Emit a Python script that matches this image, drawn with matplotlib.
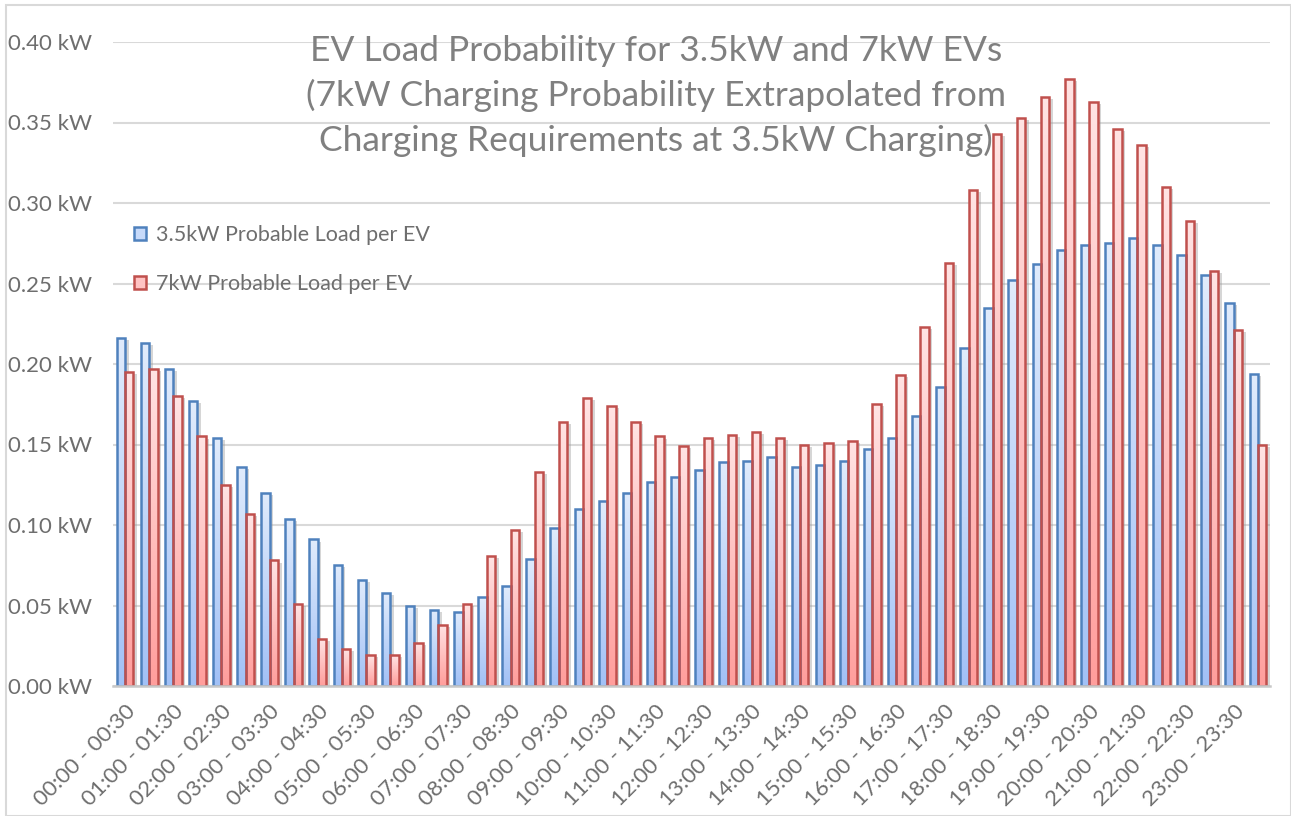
import matplotlib
matplotlib.use("Agg")
import matplotlib.pyplot as plt
import matplotlib.patheffects as pe
from matplotlib.patches import Patch, Rectangle
from matplotlib.colors import LinearSegmentedColormap
import numpy as np

plt.rcParams['font.family'] = ['Lato', 'DejaVu Sans']

# ---------------- data ----------------
start_hours = [f"{h:02d}:{m:02d}" for h in range(24) for m in (0, 30)]
end_hours = start_hours[1:] + ["00:00"]
categories = [f"{a} - {b}" for a, b in zip(start_hours, end_hours)]

load_35kw = [0.216, 0.213, 0.197, 0.177, 0.154, 0.136, 0.120, 0.104, 0.091, 0.075,
             0.066, 0.058, 0.050, 0.047, 0.046, 0.055, 0.062, 0.079, 0.098, 0.110,
             0.115, 0.120, 0.127, 0.130, 0.134, 0.139, 0.140, 0.142, 0.136, 0.137,
             0.140, 0.147, 0.154, 0.168, 0.186, 0.210, 0.235, 0.252, 0.262, 0.271,
             0.274, 0.275, 0.278, 0.274, 0.268, 0.255, 0.238, 0.194]
load_7kw = [0.195, 0.197, 0.180, 0.155, 0.125, 0.107, 0.078, 0.051, 0.029, 0.023,
            0.019, 0.019, 0.027, 0.038, 0.051, 0.081, 0.097, 0.133, 0.164, 0.179,
            0.174, 0.164, 0.155, 0.149, 0.154, 0.156, 0.158, 0.154, 0.150, 0.151,
            0.152, 0.175, 0.193, 0.223, 0.263, 0.308, 0.343, 0.353, 0.366, 0.377,
            0.363, 0.346, 0.336, 0.310, 0.289, 0.258, 0.221, 0.150]

series_names = ["3.5kW Probable Load per EV", "7kW Probable Load per EV"]
title_text = ("EV Load Probability for 3.5kW and 7kW EVs\n"
              "(7kW Charging Probability Extrapolated from\n"
              "Charging Requirements at 3.5kW Charging)")
y_ticks = [0.00, 0.05, 0.10, 0.15, 0.20, 0.25, 0.30, 0.35, 0.40]

# ---------------- style ----------------
blue_edge = "#4f81bd"
blue_top, blue_bot = "#e0ebfc", "#a2c1f6"
red_edge = "#c0504d"
red_top, red_bot = "#ffe3e3", "#ff9e9c"
text_gray = "#6e6e6e"

W, H = 1291, 816
fig = plt.figure(figsize=(W / 100, H / 100), dpi=100)
ax = fig.add_axes([113 / W, 1 - 686 / H, (1270 - 113) / W, (686 - 42) / H])

x = np.arange(len(categories))
bw = 0.35

cmap_b = LinearSegmentedColormap.from_list("b", [blue_bot, blue_top])
cmap_r = LinearSegmentedColormap.from_list("r", [red_bot, red_top])
grad = np.linspace(0, 1, 64).reshape(-1, 1)

shadow = [pe.SimplePatchShadow(offset=(2.5, -1.5), shadow_rgbFace="#999999", alpha=0.4),
          pe.Normal()]

for vals, off, cmap, edge, midc in [(load_35kw, -bw / 2, cmap_b, blue_edge, blue_bot),
                                     (load_7kw, bw / 2, cmap_r, red_edge, red_bot)]:
    bars = ax.bar(x + off, vals, width=bw, color=midc, edgecolor="none",
                  zorder=2, path_effects=shadow)
    for b in bars:
        bx, by, bwid, bh = b.get_x(), b.get_y(), b.get_width(), b.get_height()
        im = ax.imshow(grad, cmap=cmap, origin="lower", aspect="auto",
                       extent=(bx, bx + bwid, by, by + bh), zorder=2.5,
                       interpolation="bicubic")
        im.set_clip_path(b)
    ax.bar(x + off, vals, width=bw, facecolor="none", edgecolor=edge,
           linewidth=1.8, zorder=3)

ax.set_xlim(-0.5, len(categories) - 0.5)
ax.set_ylim(0, 0.40)
ax.set_yticks(y_ticks)
ax.set_yticklabels([f"{v:.2f} kW" for v in y_ticks])
ax.grid(axis="y", color="#d9d9d9", linewidth=1.5, zorder=0)
ax.set_axisbelow(True)

ax.set_xticks(x[::2])
ax.set_xticklabels(categories[::2], rotation=45, ha="right", va="top",
                   rotation_mode="anchor")
ax.tick_params(axis="x", length=0, pad=11, labelsize=16, colors=text_gray)
ax.tick_params(axis="y", length=0, pad=15, labelsize=16, colors=text_gray)

for s in ["left", "right", "top"]:
    ax.spines[s].set_visible(False)
ax.spines["bottom"].set_color("#c8c8c8")
ax.spines["bottom"].set_linewidth(1.8)
ax.spines["bottom"].set_zorder(4)

# title inside plot area
fig.text(656 / W, 1 - 35 / H, title_text, ha="center", va="top",
         fontsize=25.5, color="#808080", linespacing=1.43, zorder=5)

# legend
handles = [Patch(facecolor="#c7dafa", edgecolor=blue_edge, linewidth=1.8),
           Patch(facecolor="#ffc3c3", edgecolor=red_edge, linewidth=1.8)]
leg = fig.legend(handles, series_names, loc="upper left",
                 bbox_to_anchor=(134 / W, 1 - 225 / H), frameon=False,
                 fontsize=15.5, labelcolor=text_gray, handlelength=0.55,
                 handleheight=0.55, handletextpad=0.45, labelspacing=1.35,
                 borderpad=0, borderaxespad=0)

# figure border
fig.add_artist(Rectangle((6 / W, 0), 1 - 6 / W, 1 - 5 / H, transform=fig.transFigure,
                         fill=False, edgecolor="#d9d9d9", linewidth=1.5))

fig.savefig("out.png", dpi=100)
